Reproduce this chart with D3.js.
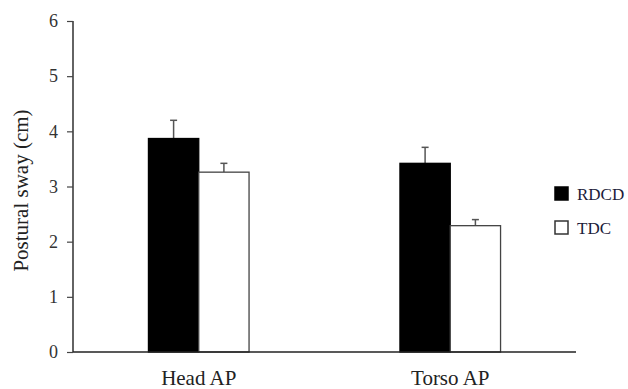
<!DOCTYPE html>
<html>
<head>
<meta charset="utf-8">
<script src="https://cdn.jsdelivr.net/npm/d3@7"></script>
<style>
  body { margin: 0; background: #fff; }
  svg text { font-family: "Liberation Serif", "DejaVu Serif", serif; }
</style>
</head>
<body>
<div id="chart"></div>
<script>
(function() {

    var categories = ["Head AP", "Torso AP"];
    var groups = ["RDCD", "TDC"];
    var rdcdValues = [3.87, 3.42];
    var rdcdErrors = [0.33, 0.29];
    var tdcValues = [3.26, 2.29];
    var tdcErrors = [0.16, 0.11];
    var yTicks = [0, 1, 2, 3, 4, 5, 6];

    var width = 628;
    var height = 389;
    var margin = {top: 21, right: 52, bottom: 37, left: 73};

    var svg = d3.select("#chart")
        .append("svg")
        .attr("width", width)
        .attr("height", height);

    var x = d3.scaleBand()
        .domain(categories)
        .range([margin.left, width - margin.right])
        .paddingInner(0.6)
        .paddingOuter(0.3);

    var xGroup = d3.scaleBand()
        .domain(groups)
        .range([0, x.bandwidth()]);

    var y = d3.scaleLinear()
        .domain([0, 6])
        .range([height - margin.bottom, margin.top]);

    var rows = categories.map(function(c, i) {
        return [
            {cat: c, group: "RDCD", value: rdcdValues[i], err: rdcdErrors[i]},
            {cat: c, group: "TDC", value: tdcValues[i], err: tdcErrors[i]}
        ];
    });
    var flat = [].concat.apply([], rows);

    var fill = {RDCD: "#000", TDC: "#fff"};

    // error bars (upper only)
    var errG = svg.append("g")
        .attr("stroke", "#555")
        .attr("stroke-width", 1.5);

    errG.selectAll("line.stem")
        .data(flat)
        .enter().append("line")
        .attr("class", "stem")
        .attr("x1", d => x(d.cat) + xGroup(d.group) + xGroup.bandwidth() / 2)
        .attr("x2", d => x(d.cat) + xGroup(d.group) + xGroup.bandwidth() / 2)
        .attr("y1", d => y(d.value))
        .attr("y2", d => y(d.value + d.err));

    errG.selectAll("line.cap")
        .data(flat)
        .enter().append("line")
        .attr("class", "cap")
        .attr("x1", d => x(d.cat) + xGroup(d.group) + xGroup.bandwidth() / 2 - 3.5)
        .attr("x2", d => x(d.cat) + xGroup(d.group) + xGroup.bandwidth() / 2 + 3.5)
        .attr("y1", d => y(d.value + d.err))
        .attr("y2", d => y(d.value + d.err));

    // bars
    svg.append("g")
        .selectAll("rect")
        .data(flat)
        .enter().append("rect")
        .attr("x", d => x(d.cat) + xGroup(d.group))
        .attr("y", d => y(d.value))
        .attr("width", xGroup.bandwidth())
        .attr("height", d => y(0) - y(d.value))
        .attr("fill", d => fill[d.group])
        .attr("stroke", d => d.group == "TDC" ? "#444" : "#000")
        .attr("stroke-width", 1.3);

    // y axis
    var yAxis = svg.append("g")
        .attr("transform", "translate(" + margin.left + ",0)")
        .call(d3.axisLeft(y).tickValues(yTicks).tickSize(6).tickPadding(9).tickFormat(d3.format("d")));
    yAxis.select(".domain").attr("stroke", "#222").attr("stroke-width", 1.4).attr("d", "M0," + y(6) + "V" + y(0));
    yAxis.selectAll(".tick line").attr("stroke", "#444").attr("stroke-width", 1.2);
    yAxis.selectAll(".tick text")
        .attr("font-size", 18)
        .attr("fill", "#333")
        .style("font-family", "Liberation Serif, serif");

    // x axis line
    svg.append("line")
        .attr("x1", margin.left)
        .attr("x2", width - margin.right)
        .attr("y1", y(0))
        .attr("y2", y(0))
        .attr("stroke", "#222")
        .attr("stroke-width", 1.4);

    svg.selectAll("text.cat")
        .data(categories)
        .enter().append("text")
        .attr("class", "cat")
        .attr("x", d => x(d) + x.bandwidth() / 2)
        .attr("y", 385)
        .attr("text-anchor", "middle")
        .attr("font-size", 21)
        .attr("fill", "#222")
        .text(d => d);

    // y label
    svg.append("text")
        .attr("transform", "translate(28," + ((margin.top + y(0)) / 2 + 4) + ") rotate(-90)")
        .attr("text-anchor", "middle")
        .attr("font-size", 21)
        .attr("fill", "#222")
        .text("Postural sway (cm)");

    // legend
    var legend = svg.append("g")
        .selectAll("g")
        .data(groups)
        .enter().append("g")
        .attr("transform", (d, i) => "translate(555," + (187 + i * 34) + ")");

    legend.append("rect")
        .attr("width", 13)
        .attr("height", 13)
        .attr("fill", d => fill[d])
        .attr("stroke", d => d == "TDC" ? "#333" : "#000")
        .attr("stroke-width", 1.5);

    legend.append("text")
        .attr("x", 22)
        .attr("y", 13)
        .attr("font-size", 17)
        .attr("fill", "#1c1c3a")
        .text(d => d);

})();
</script>
</body>
</html>
